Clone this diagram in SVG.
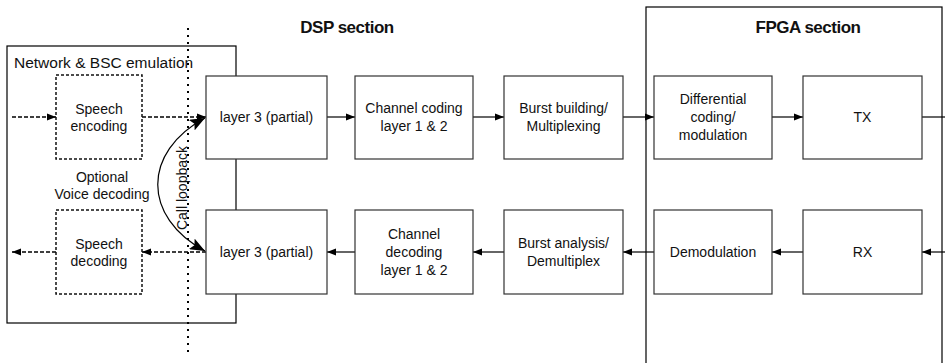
<svg xmlns="http://www.w3.org/2000/svg" width="945" height="363" viewBox="0 0 945 363">
<style>
  .box { fill: #ffffff; stroke: #333333; stroke-width: 1.2; }
  .dbox { fill: #ffffff; stroke: #111111; stroke-width: 1.5; stroke-dasharray: 3 2; }
  .frame { fill: none; stroke: #000000; stroke-width: 1.2; }
  .t { font-family: "Liberation Sans", Arial, sans-serif; font-size: 14px; fill: #111111; text-anchor: middle; }
  .title { font-family: "Liberation Sans", Arial, sans-serif; font-size: 17px; font-weight: bold; fill: #111111; text-anchor: middle; letter-spacing: -0.5px; }
  .lbl { font-family: "Liberation Sans", Arial, sans-serif; font-size: 15.5px; fill: #111111; }
  .ln { stroke: #000000; stroke-width: 1.2; fill: none; }
  .dl { stroke: #000000; stroke-width: 1.5; fill: none; stroke-dasharray: 4 2; }
</style>
<defs>
  <marker id="ah" markerUnits="userSpaceOnUse" markerWidth="10" markerHeight="8" refX="9" refY="4" orient="auto">
    <path d="M0,0.5 L9,4 L0,7.5 z" fill="#000000"/>
  </marker>
  <marker id="big" markerUnits="userSpaceOnUse" markerWidth="16" markerHeight="12" refX="15" refY="6" orient="auto-start-reverse">
    <path d="M0,0 L15,6 L0,12 L3,6 z" fill="#000000"/>
  </marker>
</defs>

<g id="frames">
  <rect class="frame" x="7" y="46" width="229" height="277"/>
  <rect class="frame" x="646" y="7" width="296" height="370"/>
  <text class="lbl" x="14" y="68">Network &amp; BSC emulation</text>
  <text class="title" x="347" y="33">DSP section</text>
  <text class="title" x="808" y="33">FPGA section</text>
</g>

<g id="dotline">
  <line x1="188" y1="28" x2="188" y2="354" stroke="#000000" stroke-width="2" stroke-dasharray="2 5"/>
</g>

<g id="connectors">
  <line class="dl" x1="12" y1="117" x2="56" y2="117" marker-end="url(#ah)"/>
  <line class="dl" x1="142" y1="117" x2="206" y2="117" marker-end="url(#ah)"/>
  <line class="dl" x1="206" y1="252" x2="142" y2="252" marker-end="url(#ah)"/>
  <line class="dl" x1="56" y1="252" x2="12" y2="252" marker-end="url(#ah)"/>
  <line class="ln" x1="327" y1="117" x2="355" y2="117" marker-end="url(#ah)"/>
  <line class="ln" x1="473" y1="117" x2="504" y2="117" marker-end="url(#ah)"/>
  <line class="ln" x1="623" y1="117" x2="654" y2="117" marker-end="url(#ah)"/>
  <line class="ln" x1="772" y1="117" x2="803" y2="117" marker-end="url(#ah)"/>
  <line class="ln" x1="922" y1="117" x2="945" y2="117"/>
  <line class="ln" x1="945" y1="252" x2="922" y2="252" marker-end="url(#ah)"/>
  <line class="ln" x1="803" y1="252" x2="772" y2="252" marker-end="url(#ah)"/>
  <line class="ln" x1="654" y1="252" x2="623" y2="252" marker-end="url(#ah)"/>
  <line class="ln" x1="504" y1="252" x2="473" y2="252" marker-end="url(#ah)"/>
  <line class="ln" x1="355" y1="252" x2="327" y2="252" marker-end="url(#ah)"/>
  <path class="ln" d="M205 118 C142 152 142 217 205 251" stroke-width="1.5" marker-start="url(#big)" marker-end="url(#big)"/>
  <text class="t" transform="translate(187,188) rotate(-90)">Call loopback</text>
</g>

<g id="speech-encoding">
  <rect class="dbox" x="56" y="75" width="86" height="84"/>
  <text class="t" x="99" y="114">Speech</text>
  <text class="t" x="99" y="131">encoding</text>
</g>
<g id="speech-decoding">
  <rect class="dbox" x="56" y="210" width="86" height="84"/>
  <text class="t" x="99" y="249">Speech</text>
  <text class="t" x="99" y="266">decoding</text>
</g>
<g id="optional-voice">
  <text class="t" x="102" y="182">Optional</text>
  <text class="t" x="102" y="199">Voice decoding</text>
</g>

<g id="layer3-tx">
  <rect class="box" x="206" y="76" width="121" height="83"/>
  <text class="t" x="266.5" y="122">layer 3 (partial)</text>
</g>
<g id="layer3-rx">
  <rect class="box" x="206" y="210" width="121" height="84"/>
  <text class="t" x="266.5" y="257">layer 3 (partial)</text>
</g>
<g id="channel-coding">
  <rect class="box" x="355" y="76" width="118" height="83"/>
  <text class="t" x="414" y="113">Channel coding</text>
  <text class="t" x="414" y="131">layer 1 &amp; 2</text>
</g>
<g id="channel-decoding">
  <rect class="box" x="355" y="210" width="118" height="84"/>
  <text class="t" x="414" y="239">Channel</text>
  <text class="t" x="414" y="257">decoding</text>
  <text class="t" x="414" y="275">layer 1 &amp; 2</text>
</g>
<g id="burst-building">
  <rect class="box" x="504" y="76" width="119" height="83"/>
  <text class="t" x="563.5" y="113">Burst building/</text>
  <text class="t" x="563.5" y="131">Multiplexing</text>
</g>
<g id="burst-analysis">
  <rect class="box" x="504" y="210" width="119" height="84"/>
  <text class="t" x="563.5" y="248">Burst analysis/</text>
  <text class="t" x="563.5" y="266">Demultiplex</text>
</g>
<g id="differential">
  <rect class="box" x="654" y="76" width="118" height="83"/>
  <text class="t" x="713" y="104">Differential</text>
  <text class="t" x="713" y="122">coding/</text>
  <text class="t" x="713" y="140">modulation</text>
</g>
<g id="demodulation">
  <rect class="box" x="654" y="210" width="118" height="84"/>
  <text class="t" x="713" y="257">Demodulation</text>
</g>
<g id="tx">
  <rect class="box" x="803" y="76" width="119" height="83"/>
  <text class="t" x="862.5" y="122">TX</text>
</g>
<g id="rx">
  <rect class="box" x="803" y="210" width="119" height="84"/>
  <text class="t" x="862.5" y="257">RX</text>
</g>
</svg>
